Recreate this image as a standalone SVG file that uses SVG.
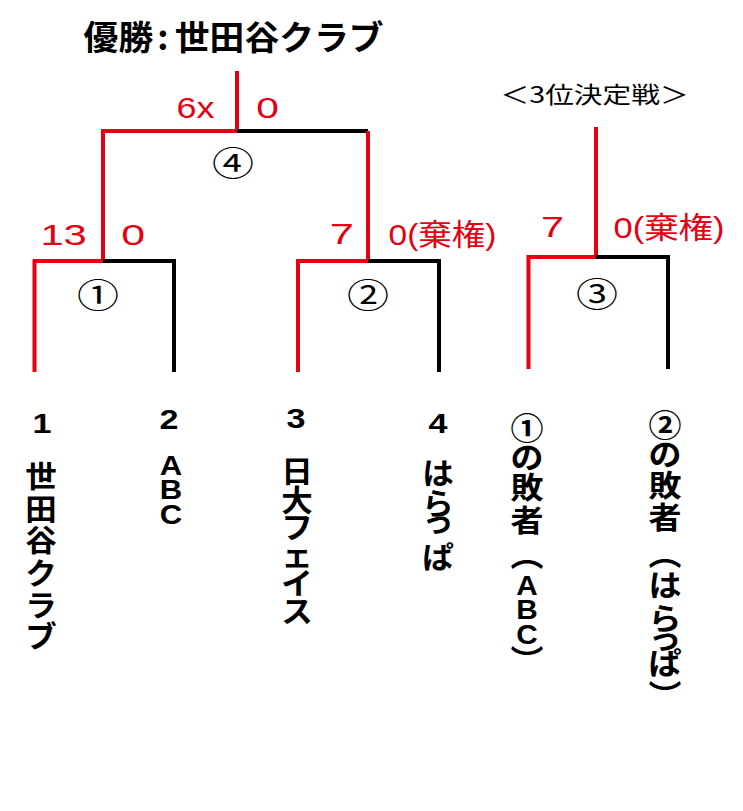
<svg xmlns="http://www.w3.org/2000/svg" width="743" height="811" viewBox="0 0 743 811">
<style>
.bg{fill:#fff}
.red{fill:none;stroke:#e60012;stroke-width:4;stroke-linejoin:miter}
.blk{fill:none;stroke:#000;stroke-width:4;stroke-linejoin:miter}
.title{font-family:"Noto Sans CJK JP","Liberation Sans",sans-serif;font-weight:bold;font-size:34px;fill:#000}
.sub{font-family:"Noto Sans CJK JP","Liberation Sans",sans-serif;font-size:23px;fill:#000}
.score{font-family:"Liberation Sans","Noto Sans CJK JP",sans-serif;font-size:30px;fill:#e60012}
.score2{font-family:"Liberation Sans","Noto Sans CJK JP",sans-serif;font-size:29px;fill:#e60012}
.circ{font-family:"Noto Sans CJK JP",sans-serif;font-size:34px;fill:#000;text-anchor:middle}
.num{font-family:"Liberation Sans",sans-serif;font-weight:bold;font-size:28px;fill:#000;text-anchor:middle}
.name{font-family:"Noto Sans CJK JP",sans-serif;font-weight:bold;font-size:30px;fill:#000;text-anchor:middle}
.lat{font-family:"Liberation Sans",sans-serif;font-weight:bold;font-size:27px}
</style>
<rect class="bg" x="0" y="0" width="743" height="811"/>

<g id="title">
<text class="title" x="83.6" y="50" textLength="300" lengthAdjust="spacingAndGlyphs">優勝<tspan dx="4">:</tspan><tspan dx="6">世田谷クラブ</tspan></text>
</g>
<g id="title-3rd">
<text class="sub" x="500.6" y="103" textLength="188" lengthAdjust="spacingAndGlyphs">＜3位決定戦＞</text>
</g>

<g id="connectors">
<polyline class="red" points="237,71 237,131 103,131 103,261 34.5,261 34.5,372"/>
<polyline class="blk" points="237,131 368,131"/>
<polyline class="blk" points="103,261 174,261 174,372"/>
<polyline class="red" points="368,131 368,261 298,261 298,372"/>
<polyline class="blk" points="368,261 439,261 439,372"/>
<polyline class="red" points="596,127 596,257 528.5,257 528.5,369"/>
<polyline class="blk" points="596,257 668,257 668,369"/>
</g>

<g id="match4">
<text class="circ" x="233" y="176" textLength="42" lengthAdjust="spacingAndGlyphs">④</text>
<text class="score2" x="176.5" y="118" textLength="38" lengthAdjust="spacingAndGlyphs">6x</text>
<text class="score2" x="256.3" y="118" textLength="22.6" lengthAdjust="spacingAndGlyphs">0</text>
</g>
<g id="match1">
<text class="circ" x="98" y="308" textLength="42" lengthAdjust="spacingAndGlyphs">①</text>
<text class="score" x="40.4" y="245" textLength="46.4" lengthAdjust="spacingAndGlyphs">13</text>
<text class="score" x="121.2" y="245" textLength="23.8" lengthAdjust="spacingAndGlyphs">0</text>
</g>
<g id="match2">
<text class="circ" x="368" y="308" textLength="42" lengthAdjust="spacingAndGlyphs">②</text>
<text class="score" x="329.8" y="244" textLength="24.2" lengthAdjust="spacingAndGlyphs">7</text>
<text class="score" x="388.6" y="245" textLength="107.8" lengthAdjust="spacingAndGlyphs">0(棄権)</text>
</g>
<g id="match3">
<text class="circ" x="597" y="307" textLength="42" lengthAdjust="spacingAndGlyphs">③</text>
<text class="score" x="541" y="237" textLength="23" lengthAdjust="spacingAndGlyphs">7</text>
<text class="score" x="613.5" y="238" textLength="111" lengthAdjust="spacingAndGlyphs">0(棄権)</text>
</g>

<g id="team1">
<text class="num" x="42" y="433" textLength="19" lengthAdjust="spacingAndGlyphs">1</text>
<g transform="translate(41 0) scale(1.05 1)">
<text class="name"><tspan x="0" y="487">世</tspan><tspan x="0" y="520">田</tspan><tspan x="0" y="551">谷</tspan><tspan x="0" y="584">ク</tspan><tspan x="0" y="616">ラ</tspan><tspan x="0" y="647">ブ</tspan></text>
</g>
</g>
<g id="team2">
<text class="num" x="169" y="429" textLength="19" lengthAdjust="spacingAndGlyphs">2</text>
<g transform="translate(171 0) scale(1.15 1)">
<text class="num" style="font-size:27px"><tspan x="0" y="475">A</tspan><tspan x="0" y="499">B</tspan><tspan x="0" y="524">C</tspan></text>
</g>
</g>
<g id="team3">
<text class="num" x="296" y="428" textLength="19" lengthAdjust="spacingAndGlyphs">3</text>
<g transform="translate(297 0) scale(1.05 1)">
<text class="name"><tspan x="0" y="482.5">日</tspan><tspan x="0" y="511.5">大</tspan><tspan x="0" y="538.5">フ</tspan><tspan x="0" y="566">ェ</tspan><tspan x="0" y="594.5">イ</tspan><tspan x="0" y="622.5">ス</tspan></text>
</g>
</g>
<g id="team4">
<text class="num" x="438" y="433" textLength="19" lengthAdjust="spacingAndGlyphs">4</text>
<g transform="translate(438 0) scale(1.05 1)">
<text class="name"><tspan x="0" y="484.5">は</tspan><tspan x="0" y="514.5">ら</tspan><tspan x="0" y="532.5">っ</tspan><tspan x="0" y="568">ぱ</tspan></text>
</g>
</g>
<g id="loser1">
<g transform="translate(527 0) scale(1.1 1)">
<text class="name"><tspan x="0" y="439">①</tspan><tspan x="0" y="468">の</tspan><tspan x="0" y="498.5">敗</tspan><tspan x="0" y="531.5">者</tspan><tspan x="0" y="566">︵</tspan><tspan class="lat" x="0" y="595">A</tspan><tspan class="lat" x="0" y="619">B</tspan><tspan class="lat" x="0" y="644">C</tspan><tspan x="0" y="671">︶</tspan></text>
</g>
</g>
<g id="loser2">
<g transform="translate(665 0) scale(1.1 1)">
<text class="name"><tspan x="0" y="436.5">②</tspan><tspan x="0" y="465.5">の</tspan><tspan x="0" y="496.5">敗</tspan><tspan x="0" y="528.5">者</tspan><tspan x="0" y="565">︵</tspan><tspan x="0" y="596.5">は</tspan><tspan x="0" y="629.5">ら</tspan><tspan x="0" y="649.5">っ</tspan><tspan x="0" y="674.5">ぱ</tspan><tspan x="0" y="706">︶</tspan></text>
</g>
</g>
</svg>
